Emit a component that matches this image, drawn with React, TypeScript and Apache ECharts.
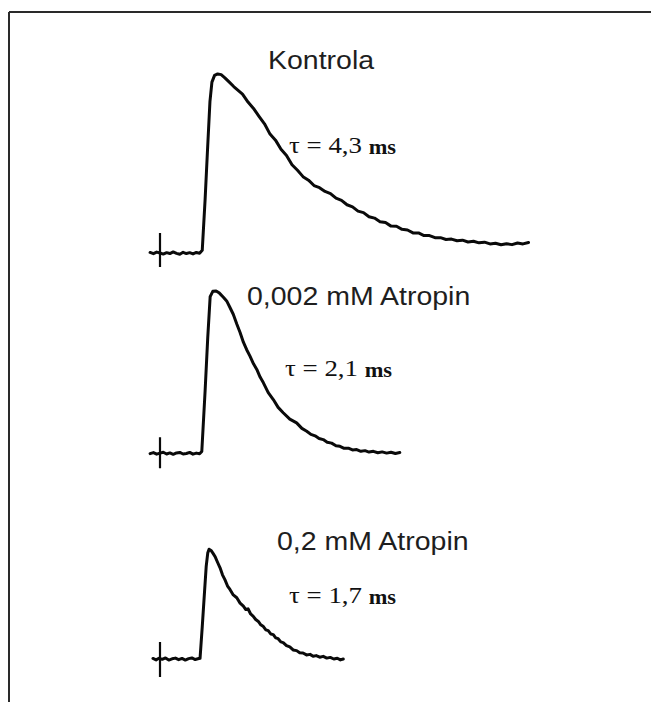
import React, { useEffect, useRef } from "react";
import * as echarts from "echarts";

// Time in ms (0 = stimulus marker), amplitude in arbitrary units (control peak ~100)
const ctrlT = [
  -0.45, -0.3, -0.15, 0, 0.15, 0.3, 0.45, 0.6, 0.75, 0.9, 1.05, 1.2, 1.35, 1.5, 1.65, 1.8, 1.92,
  2.05, 2.16, 2.27, 2.36, 2.48, 2.62, 2.78, 2.95, 3.15, 3.35, 3.55,
  3.75, 4.0, 4.25, 4.5, 4.75, 5.0, 5.25, 5.5, 5.75, 6.0, 6.25, 6.5, 6.75, 7.0, 7.25, 7.5, 7.75,
  8.0, 8.25, 8.5, 8.75, 9.0, 9.25, 9.5, 9.75, 10.0, 10.25, 10.5, 10.75, 11.0, 11.25, 11.5, 11.75,
  12.0, 12.25, 12.5, 12.75, 13.0, 13.25, 13.5, 13.75, 14.0, 14.25, 14.5, 14.75, 15.0, 15.25, 15.5,
  15.75, 16.0, 16.25, 16.5, 16.75,
];
const ctrlA = [
  0.3, -0.4, 0.5, 0.0, -0.6, 0.2, -0.3, 0.6, -0.2, -0.7, 0.4, -0.3, 0.2, -0.5, 0.3, -0.1, 1.5,
  30, 58, 85, 96, 99.8, 100.6, 100.2, 98.4, 96, 93.5, 91.4,
  89.3, 84.8, 81.2, 76.8, 72.6, 66.8, 63.4, 58.3, 54.8, 49.6, 46.5, 42.9, 40.9, 37.9, 36.7, 34.6, 33.4,
  30.8, 29.6, 27.1, 25.9, 23.5, 22.7, 20.4, 19.6, 17.6, 17.1, 15.1, 15.0, 13.3, 12.9, 11.3, 11.3,
  9.8, 9.8, 8.6, 8.6, 7.6, 7.8, 6.9, 7.2, 6.2, 6.6, 5.7, 6.1, 5.1, 5.5, 4.6,
  5.2, 4.7, 5.6, 5.1, 5.9,
];

const atr1T = [
  -0.45, -0.3, -0.15, 0, 0.15, 0.3, 0.45, 0.6, 0.75, 0.9, 1.05, 1.2, 1.35, 1.5, 1.65, 1.8, 1.9,
  2.05, 2.17, 2.28, 2.4, 2.55, 2.7, 2.88, 3.03, 3.18, 3.33, 3.49, 3.64, 3.79, 3.94, 4.09, 4.25,
  4.4, 4.55, 4.7, 4.92, 5.15, 5.37, 5.6, 5.9, 6.21, 6.45, 6.67, 6.86, 7.05, 7.23, 7.42, 7.6, 7.8,
  8.0, 8.18, 8.37, 8.56, 8.75, 8.94, 9.13, 9.32, 9.5, 9.7, 9.9, 10.1, 10.3, 10.5, 10.7, 10.9,
];
const atr1A = [
  -0.2, 0.4, -0.5, 0.1, 0.6, -0.4, 0.2, -0.6, 0.2, 0.5, -0.4, -0.1, 0.5, -0.5, 0.1, -0.3, 1.0,
  35, 65, 88, 91, 91.2, 90.0, 87.7, 85.6, 81.9, 78.1, 72.6, 67.9, 62.4, 58.2, 54.6, 50.3,
  47.1, 42.8, 39.6, 34.1, 30.2, 25.8, 22.8, 19.2, 17.1, 14.0, 12.4, 10.6, 9.8, 8.3, 7.7, 6.2, 5.7,
  4.2, 3.9, 2.8, 2.9, 1.9, 2.1, 1.1, 1.5, 0.7, 1.1, 0.3, 0.8, 0.1, 0.6, -0.1, 0.4,
];

const atr2T = [
  -0.32, -0.18, -0.05, 0.1, 0.25, 0.4, 0.55, 0.7, 0.85, 1.0, 1.15, 1.3, 1.45, 1.6, 1.72, 1.82,
  1.92, 2.02, 2.1, 2.17, 2.23, 2.32, 2.42, 2.5, 2.62, 2.73, 2.84, 2.95, 3.07, 3.18, 3.33, 3.49,
  3.64, 3.79, 3.9, 4.0, 4.12, 4.24, 4.35, 4.47, 4.58, 4.7, 4.81, 4.92, 5.04, 5.15, 5.26, 5.37,
  5.49, 5.6, 5.75, 5.9, 6.05, 6.21, 6.35, 6.5, 6.66, 6.82, 6.96, 7.1, 7.26, 7.42, 7.58, 7.74,
  7.9, 8.06, 8.2, 8.33,
];
const atr2A = [
  0.3, -0.5, 0.4, -0.2, 0.6, -0.6, 0.1, 0.5, -0.4, 0.3, -0.6, 0.2, 0.6, -0.3, 0.1, 0.4,
  18, 37, 52, 59.5, 61.7, 61, 59.2, 57.6, 54.2, 51.2, 47.3, 44.6, 41.0, 39.1, 36.0, 34.4,
  31.4, 29.7, 27.8, 28.2, 25.3, 24.0, 22.2, 21.1, 19.2, 18.2, 16.4, 15.9, 14.0, 13.7, 11.9, 11.4,
  9.6, 9.2, 7.5, 6.8, 5.1, 4.7, 3.5, 3.4, 2.3, 2.6, 1.5, 1.9, 1.0, 1.5, 0.5, 0.9,
  0.0, 0.4, -0.5, 0.0,
];

// Vertical stimulus marker (top, bottom) for each trace, same units as amplitude
const ctrlTick = [11.2, -7.9];
const atr1Tick = [9.0, -8.4];
const atr2Tick = [9.6, -10.1];

const traceLabels = ["Kontrola", "0,002 mM Atropin", "0,2 mM Atropin"];
const tauLabels = ["4,3", "2,1", "1,7"];

const zip = (t: number[], a: number[]) => t.map((v, i) => [v, a[i]]);

export default function App() {
  const ref = useRef<HTMLDivElement>(null);
  useEffect(() => {
    const chart = echarts.init(ref.current!, null, { renderer: "svg" });
    const gridTops = [66.1, 266.4, 472.1];
    const traces = [zip(ctrlT, ctrlA), zip(atr1T, atr1A), zip(atr2T, atr2A)];
    const ticks = [ctrlTick, atr1Tick, atr2Tick];
    const series: any[] = [];
    traces.forEach((d, i) => {
      series.push({
        type: "line",
        xAxisIndex: i,
        yAxisIndex: i,
        data: d,
        showSymbol: false,
        lineStyle: { color: "#0a0a0a", width: 3, join: "round", cap: "round" },
        silent: true,
      });
      series.push({
        type: "line",
        xAxisIndex: i,
        yAxisIndex: i,
        data: [[0, ticks[i][0]], [0, ticks[i][1]]],
        showSymbol: false,
        lineStyle: { color: "#0a0a0a", width: 2.2 },
        silent: true,
      });
    });
    const labelPos = [
      [268, 61],
      [247, 297],
      [277, 542],
    ];
    const tauPos = [
      [289, 145],
      [285, 368],
      [289, 595],
    ];
    const graphic: any[] = [
      { type: "line", shape: { x1: 9, y1: 12, x2: 651, y2: 12 }, style: { stroke: "#2a2a2a", lineWidth: 2 } },
      { type: "line", shape: { x1: 9, y1: 12, x2: 9, y2: 702 }, style: { stroke: "#2a2a2a", lineWidth: 2 } },
    ];
    traceLabels.forEach((t, i) => {
      graphic.push({
        type: "text",
        x: labelPos[i][0],
        y: labelPos[i][1],
        scaleX: 1.14,
        style: {
          text: t,
          fontFamily: "Liberation Sans",
          fontSize: 25,
          fill: "#1e1e1e",
          align: "left",
          verticalAlign: "middle",
        },
      });
    });
    tauLabels.forEach((t, i) => {
      graphic.push({
        type: "text",
        x: tauPos[i][0],
        y: tauPos[i][1],
        scaleX: 1.12,
        style: {
          text: `{a|τ = ${t} }{b|ms}`,
          align: "left",
          verticalAlign: "middle",
          rich: {
            a: { fontFamily: "Liberation Serif", fontSize: 24, fill: "#111", verticalAlign: "bottom" },
            b: { fontFamily: "Liberation Serif", fontSize: 20, fontWeight: "bold", fill: "#111", verticalAlign: "bottom" },
          },
        },
      });
    });
    chart.setOption({
      animation: false,
      backgroundColor: "#ffffff",
      grid: gridTops.map((top) => ({ left: 146.8, right: 117, top, height: 213.6 })),
      xAxis: gridTops.map((_, i) => ({ type: "value", gridIndex: i, min: -0.6, max: 17, show: false })),
      yAxis: gridTops.map((_, i) => ({ type: "value", gridIndex: i, min: -15, max: 105, show: false })),
      series,
      graphic,
    });
    return () => chart.dispose();
  }, []);
  return (
    <div
      ref={ref}
      style={{ position: "absolute", left: 0, top: 0, width: 651, height: 702, background: "#fff" }}
    />
  );
}
